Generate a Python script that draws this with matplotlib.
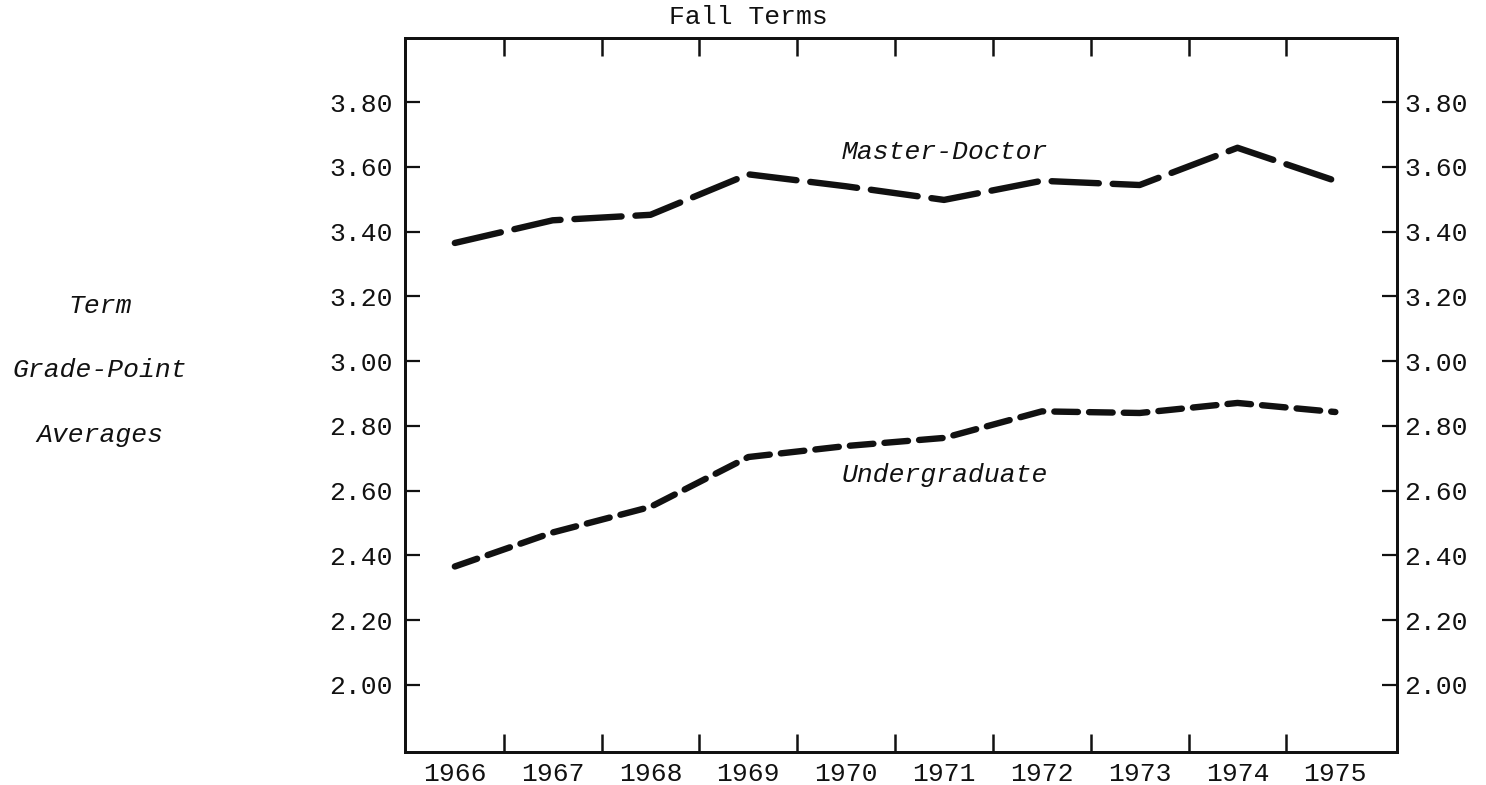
import matplotlib
matplotlib.use("Agg")
import matplotlib.pyplot as plt

# ── Datos ──────────────────────────────────────────────
years = [1966, 1967, 1968, 1969, 1970, 1971, 1972, 1973, 1974, 1975]
master_doctor = [3.365, 3.435, 3.452, 3.577, 3.540, 3.498, 3.557, 3.544, 3.659, 3.557]
undergraduate = [2.366, 2.471, 2.550, 2.704, 2.738, 2.763, 2.845, 2.840, 2.871, 2.843]
y_ticks = [2.00, 2.20, 2.40, 2.60, 2.80, 3.00, 3.20, 3.40, 3.60, 3.80]
boundary_ticks = [1966.5, 1967.5, 1968.5, 1969.5, 1970.5, 1971.5, 1972.5, 1973.5, 1974.5]

FONT = "Liberation Mono"
INK = "#111111"
SIZE = 19
plt.rcParams["font.family"] = [FONT, "DejaVu Sans Mono"]
plt.rcParams["lines.scale_dashes"] = False

fig = plt.figure(figsize=(14.86, 7.85), dpi=100)
ax = fig.add_axes([0.2725, 0.042, 0.6676, 0.9096])

ax.plot(years, master_doctor, color=INK, linewidth=4.6,
        dashes=(34, 10), dash_capstyle="round")
ax.plot(years, undergraduate, color=INK, linewidth=4.6,
        dashes=(17, 8), dash_capstyle="round")

ax.set_xlim(1965.49, 1975.63)
ax.set_ylim(1.793, 3.998)
y_labels = [f"{v:.2f}" for v in y_ticks]

# eje y izquierdo
ax.set_yticks(y_ticks)
ax.set_yticklabels(y_labels)
ax.tick_params(axis="y", direction="in", length=11, width=1.6,
               left=True, right=False, pad=9, labelsize=SIZE, colors=INK)

# eje y derecho (mismas marcas, etiquetas más cerca)
ax_r = ax.twinx()
ax_r.set_ylim(ax.get_ylim())
ax_r.set_yticks(y_ticks)
ax_r.set_yticklabels(y_labels)
ax_r.tick_params(axis="y", direction="in", length=11, width=1.6,
                 pad=5, labelsize=SIZE, colors=INK)

# eje x: marcas entre años, etiquetas centradas en cada año
ax.set_xticks(boundary_ticks)
ax.set_xticklabels([])
ax.set_xticks(years, minor=True)
ax.set_xticklabels([str(y) for y in years], minor=True)
ax.tick_params(axis="x", which="major", direction="in", length=13, width=1.8,
               top=True, bottom=True, colors=INK)
ax.tick_params(axis="x", which="minor", length=0, pad=7, labelsize=SIZE,
               colors=INK)

for a in (ax, ax_r):
    for spine in a.spines.values():
        spine.set_linewidth(2.0)
        spine.set_edgecolor(INK)

# ── Textos ────────────────────────────────────────────
fig.text(748 / 1486, 1 - 17 / 785, "Fall Terms", ha="center", va="center",
         fontsize=SIZE, color=INK)
ax.text(1969.95, 3.645, "Master-Doctor", style="italic", fontsize=SIZE,
        color=INK, ha="left", va="center")
ax.text(1969.95, 2.65, "Undergraduate", style="italic", fontsize=SIZE,
        color=INK, ha="left", va="center")

for txt, y in [("Term", 306), ("Grade-Point", 370), ("Averages", 435)]:
    fig.text(100 / 1486, 1 - y / 785, txt, ha="center", va="center",
             style="italic", fontsize=SIZE, color=INK)

fig.savefig("out.png", dpi=100, facecolor="white")
